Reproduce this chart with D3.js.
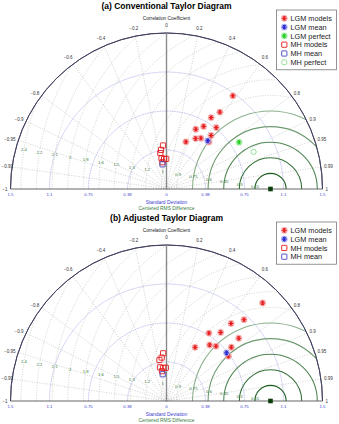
<!DOCTYPE html>
<html>
<head>
<meta charset="utf-8">
<script src="https://cdn.jsdelivr.net/npm/d3@7"></script>
<style>
  body { margin: 0; background: #fff; }
  svg { display: block; font-family: "Liberation Sans", Arial, sans-serif; }
</style>
</head>
<body>
<svg width="339" height="424"></svg>
<script>
// Axis ticks
const corrTicks = [0.2, 0.4, 0.6, 0.8, 0.9, 0.95, 0.99, 1];
const corrLabels = ["0.2", "0.4", "0.6", "0.8", "0.9", "0.95", "0.99", "1"];
const stdTicks = [0, 0.375, 0.75, 1.125, 1.5];
const stdLabels = ["0", "0.38", "0.75", "1.1", "1.5"];
const rmsTicks = [0.15, 0.3, 0.45, 0.6, 0.75, 0.9, 1.05, 1.2, 1.35, 1.5, 1.65, 1.8, 1.95, 2.1, 2.25, 2.4];
const rmsLabels = ["0.15", "0.3", "0.45", "0.6", "0.75", "0.9", "1", "1.2", "1.3", "1.5", "1.6", "1.8", "2", "2.1", "2.2", "2.4"];
const refStd = 1.0;

// (a) conventional
const lgmStdA = [1.10, 0.90, 0.81, 0.70, 0.76, 0.64, 0.67, 0.56, 0.59, 0.49, 0.61];
const lgmCorA = [0.58, 0.57, 0.53, 0.51, 0.63, 0.44, 0.64, 0.50, 0.56, 0.38, 0.67];
const lgmMeanA = [0.61, 0.65];
const lgmPerfectA = [0.83, 0.84];
const mhStdA = [0.42, 0.38, 0.35, 0.30, 0.29, 0.29, 0.26];
const mhCorA = [-0.08, -0.14, -0.17, -0.16, -0.08, -0.01, -0.15];
const mhMeanA = [0.24, -0.16];
const mhPerfectA = [0.91, 0.92];

// (b) adjusted
const lgmStdB = [1.32, 1.08, 0.97, 0.77, 0.84, 0.92, 0.585, 0.68, 0.71, 0.81, 0.735];
const lgmCorB = [0.70, 0.69, 0.64, 0.53, 0.62, 0.755, 0.47, 0.61, 0.67, 0.77, 0.81];
const lgmMeanB = [0.74, 0.78];
const mhStdB = [0.46, 0.42, 0.40, 0.33, 0.32, 0.32, 0.29];
const mhCorB = [-0.07, -0.11, -0.17, -0.19, -0.10, -0.02, -0.15];
const mhMeanB = [0.26, -0.14];

const legendA = ["LGM models", "LGM mean", "LGM perfect", "MH models", "MH mean", "MH perfect"];
const legendB = ["LGM models", "LGM mean", "MH models", "MH mean"];

const svg = d3.select("svg");
const R = 156;
const r = d3.scaleLinear().domain([0, 1.5]).range([0, R]);

// marker styles by legend name
const styles = {
  "LGM models": { shape: "star", color: "#e41a1c", halo: "#f6a5a5" },
  "LGM mean": { shape: "star", color: "#2222cc", halo: "#a8a8f0" },
  "LGM perfect": { shape: "star", color: "#22cc22", halo: "#a8f0a8" },
  "MH models": { shape: "square", color: "#e41a1c" },
  "MH mean": { shape: "square", color: "#4444bb" },
  "MH perfect": { shape: "square", color: "#88dd88" }
};

function px(s, c) { return r(s) * c; }
function py(s, c) { return -r(s) * Math.sqrt(1 - c * c); }

function marker(g, name, x, y) {
  const st = styles[name];
  const m = g.append("g").attr("transform", `translate(${x},${y})`);
  if (st.shape === "star") {
    m.append("circle").attr("r", 3.4).attr("fill", st.halo).attr("opacity", 0.85);
    m.append("path")
      .attr("d", "M-2.4,0L2.4,0M-1.2,-2.1L1.2,2.1M-1.2,2.1L1.2,-2.1M0,-2.4L0,2.4")
      .attr("stroke", st.color).attr("stroke-width", 1);
  } else {
    m.append("rect").attr("x", -2.6).attr("y", -2.6).attr("width", 5.2).attr("height", 5.2)
      .attr("rx", name === "MH perfect" ? 2.4 : 0.4)
      .attr("fill", "none").attr("stroke", st.color).attr("stroke-width", 0.9);
  }
}

function drawPanel(oy, title, sets, legendNames, clipId) {
  const g = svg.append("g").attr("transform", `translate(166.5,${oy})`);

  svg.append("text").attr("x", 166.5).attr("y", oy - 180)
    .attr("text-anchor", "middle").attr("font-weight", "bold").attr("font-size", 8.5)
    .text(title);
  g.append("text").attr("x", 0).attr("y", -169.5).attr("text-anchor", "middle")
    .attr("font-size", 4.8).attr("fill", "#222").text("Correlation Coefficient");

  g.append("clipPath").attr("id", clipId)
    .append("path")
    .attr("d", d3.arc()({ innerRadius: 0, outerRadius: R, startAngle: -Math.PI / 2, endAngle: Math.PI / 2 }));

  // correlation rays
  const allCorr = corrTicks.slice(0, -1).flatMap(c => [c, -c]);
  g.selectAll(".ray").data(allCorr).join("line")
    .attr("x1", 0).attr("y1", 0)
    .attr("x2", c => px(1.5, c)).attr("y2", c => py(1.5, c))
    .attr("stroke", "#b0b0b0").attr("stroke-width", 0.6).attr("stroke-dasharray", "1,1.5");

  // std arcs
  g.selectAll(".sarc").data(stdTicks.slice(1, -1)).join("path")
    .attr("d", s => d3.arc()({ innerRadius: r(s), outerRadius: r(s), startAngle: -Math.PI / 2, endAngle: Math.PI / 2 }))
    .attr("fill", "none").attr("stroke", "#a4a4e8").attr("stroke-width", 0.6).attr("stroke-dasharray", "1,1.5");

  // centred rms arcs around the reference
  const rmsColor = d3.scaleLinear().domain([0.15, 0.9]).range(["#1b5e20", "#a8c4a8"]).clamp(true);
  const rms = g.append("g").attr("clip-path", `url(#${clipId})`);
  rms.selectAll("circle").data(rmsTicks).join("circle")
    .attr("cx", r(refStd)).attr("cy", 0).attr("r", d => r(d))
    .attr("fill", "none")
    .attr("stroke", d => d <= 0.76 ? rmsColor(d) : "#a6bca6")
    .attr("stroke-width", d => d <= 0.76 ? 1.1 : 0.6)
    .attr("stroke-dasharray", d => d <= 0.76 ? null : "1,1.5");
  const la = Math.PI * (171 / 180);
  g.selectAll(".rlab").data(rmsTicks).join("text")
    .attr("x", (d) => r(refStd) + r(d) * Math.cos(la))
    .attr("y", (d) => -r(d) * Math.sin(la) + 1.5)
    .attr("text-anchor", "middle").attr("font-size", 4.3).attr("fill", "#3c7a3c")
    .text((d, i) => rmsLabels[i]);

  // frame
  g.append("path")
    .attr("d", d3.arc()({ innerRadius: R, outerRadius: R, startAngle: -Math.PI / 2, endAngle: Math.PI / 2 }))
    .attr("fill", "none").attr("stroke", "#3d3d5c").attr("stroke-width", 0.9);
  g.append("line").attr("x1", -R).attr("x2", R).attr("y1", 0).attr("y2", 0)
    .attr("stroke", "#555").attr("stroke-width", 0.9);
  g.append("line").attr("x1", 0).attr("x2", 0).attr("y1", 0).attr("y2", -R)
    .attr("stroke", "#8a8a8a").attr("stroke-width", 1.4);

  // correlation labels: centred near the top, anchored outward lower down
  const corrAll = [0].concat(corrTicks.flatMap(c => [c, -c]));
  const lab = g.selectAll(".clab").data(corrAll).join("text")
    .attr("font-size", 4.5).attr("fill", "#333")
    .text(c => {
      if (c === 0) return "0";
      const i = corrTicks.indexOf(Math.abs(c));
      return (c < 0 ? "\u2212" : "") + corrLabels[i];
    });
  lab.each(function (c) {
    const t = d3.select(this);
    const k = Math.abs(c) < 0.7 ? (R + 8) / R : (R + 3) / R;
    t.attr("x", px(1.5, c) * k).attr("y", py(1.5, c) * k + 1.5)
      .attr("text-anchor", Math.abs(c) < 0.7 ? "middle" : (c < 0 ? "end" : "start"));
    // keep left labels inside the page
    const left = 166.5 + this.getBBox().x;
    if (left < 1.5) t.attr("x", +t.attr("x") + (1.5 - left));
  });

  // std labels
  const stdAll = stdTicks.map((s, i) => ({ s, l: stdLabels[i] }))
    .concat(stdTicks.slice(1).map((s, i) => ({ s: -s, l: stdLabels[i + 1] })));
  g.selectAll(".slab").data(stdAll).join("text")
    .attr("x", d => d.s < 0 ? -r(-d.s) : r(d.s)).attr("y", 6.5)
    .attr("text-anchor", "middle").attr("font-size", 4.3).attr("fill", "#3c3ccc")
    .text(d => d.l);
  g.append("text").attr("x", 0).attr("y", 14.8).attr("text-anchor", "middle")
    .attr("font-size", 4.9).attr("fill", "#3c3ccc").text("Standard Deviation");
  g.append("text").attr("x", 0).attr("y", 21).attr("text-anchor", "middle")
    .attr("font-size", 4.9).attr("fill", "#3c7a3c").text("Centered RMS Difference");

  // reference point
  g.append("rect").attr("x", r(refStd) - 2.3).attr("y", -2.3).attr("width", 4.6).attr("height", 4.6)
    .attr("fill", "#0b3d0b");

  // data markers
  sets.forEach(set => {
    set.std.forEach((s, i) => marker(g, set.name, px(s, set.cor[i]), py(s, set.cor[i])));
  });

  // legend
  const lg = svg.append("g").attr("transform", `translate(276.5,${oy - 179})`);
  lg.append("rect").attr("width", 60).attr("height", legendNames.length * 8.8 + 7)
    .attr("fill", "#fff").attr("stroke", "#666").attr("stroke-width", 0.7);
  legendNames.forEach((n, i) => {
    marker(lg, n, 7.8, 8.3 + i * 8.8);
    lg.append("text").attr("x", 14).attr("y", 8.3 + i * 8.8 + 2.6)
      .attr("font-size", 7.3).attr("fill", "#222").text(n);
  });
}

drawPanel(189, "(a) Conventional Taylor Diagram", [
  { name: "MH models", std: mhStdA, cor: mhCorA },
  { name: "MH mean", std: [mhMeanA[0]], cor: [mhMeanA[1]] },
  { name: "MH perfect", std: [mhPerfectA[0]], cor: [mhPerfectA[1]] },
  { name: "LGM models", std: lgmStdA, cor: lgmCorA },
  { name: "LGM mean", std: [lgmMeanA[0]], cor: [lgmMeanA[1]] },
  { name: "LGM perfect", std: [lgmPerfectA[0]], cor: [lgmPerfectA[1]] }
], legendA, "clipA");

drawPanel(401, "(b) Adjusted Taylor Diagram", [
  { name: "MH models", std: mhStdB, cor: mhCorB },
  { name: "MH mean", std: [mhMeanB[0]], cor: [mhMeanB[1]] },
  { name: "LGM models", std: lgmStdB, cor: lgmCorB },
  { name: "LGM mean", std: [lgmMeanB[0]], cor: [lgmMeanB[1]] }
], legendB, "clipB");
</script>
</body>
</html>
